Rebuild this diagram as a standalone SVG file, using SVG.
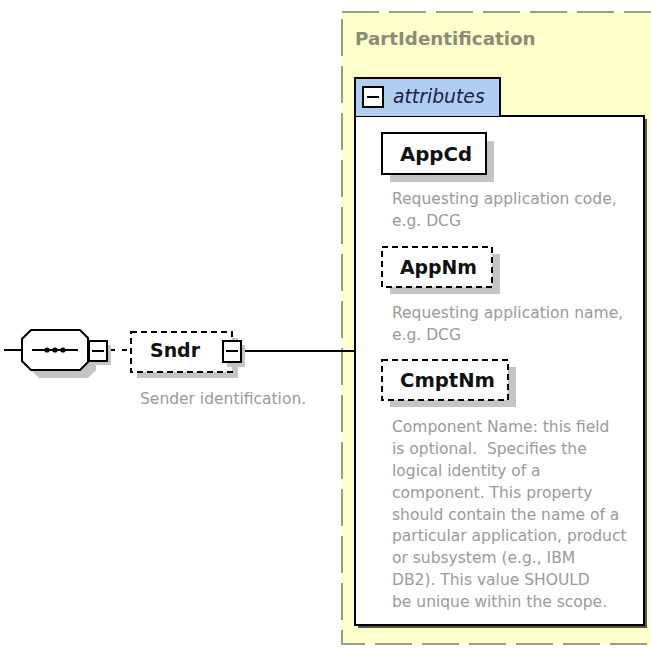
<svg xmlns="http://www.w3.org/2000/svg" width="651" height="648" viewBox="0 0 651 648">
<style>
.ln{stroke:#000;stroke-width:2;fill:none}
.sh{fill:#c4c4c4}
.box{fill:#fff;stroke:#000;stroke-width:2}
.opt{fill:#fff;stroke:#000;stroke-width:2;stroke-dasharray:6 4}
.nm{font-family:"DejaVu Sans",sans-serif;font-weight:bold;font-size:19px;fill:#111}
.ds{font-family:"DejaVu Sans",sans-serif;font-size:15.5px;fill:#9a9a9a}
.mb{fill:#fff;stroke:#000;stroke-width:2}
</style>
<rect width="651" height="648" fill="#fff"/>

<g id="PartIdentification">
<rect x="342" y="12" width="330" height="632" fill="#ffffcc" stroke="#9c9c84" stroke-width="2" stroke-dasharray="37 10"/>
<text x="355" y="45" font-family="DejaVu Sans,sans-serif" font-weight="bold" font-size="18.3px" fill="#8c8c74">PartIdentification</text>
</g>

<g id="attributes">
<rect x="358" y="119" width="289" height="509" fill="#555"/>
<rect x="355" y="116" width="289" height="509" class="box"/>
<path d="M355,116 V78 H500 V116" fill="#aecff2" stroke="#000" stroke-width="2"/>
<rect x="363" y="87" width="20" height="20" class="mb"/>
<line x1="367" y1="97" x2="379" y2="97" stroke="#000" stroke-width="2"/>
<text x="393" y="103" font-family="DejaVu Sans,sans-serif" font-style="italic" font-size="18.8px" fill="#1e2040">attributes</text>
</g>

<g id="connectors">
<line x1="4" y1="350" x2="22" y2="350" class="ln"/>
<line x1="107" y1="350" x2="131" y2="350" class="ln" stroke-dasharray="8 7 5 20"/>
<line x1="241" y1="351" x2="355" y2="351" class="ln"/>
</g>

<g id="sequence">
<polygon points="39,338 88,338 96,346 96,370 88,378 39,378 30,369 30,347" class="sh"/>
<polygon points="31,330 80,330 88,338 88,362 80,370 31,370 22,361 22,339" class="box"/>
<line x1="32" y1="350" x2="78" y2="350" stroke="#000" stroke-width="2"/>
<circle cx="47" cy="350" r="2.6"/>
<circle cx="55" cy="350" r="2.6"/>
<circle cx="63" cy="350" r="2.6"/>
<rect x="93" y="345" width="18" height="20" class="sh"/>
<rect x="89" y="341" width="18" height="20" class="mb"/>
<line x1="92" y1="351" x2="104" y2="351" stroke="#000" stroke-width="2"/>
</g>

<g id="Sndr">
<rect x="137" y="338" width="101" height="40" class="sh"/>
<rect x="131" y="332" width="101" height="40" class="opt"/>
<text x="150" y="357" class="nm" textLength="50" lengthAdjust="spacingAndGlyphs">Sndr</text>
<rect x="227" y="345" width="18" height="22" class="sh"/>
<rect x="223" y="341" width="18" height="21" class="mb"/>
<line x1="226" y1="351" x2="238" y2="351" stroke="#000" stroke-width="2"/>
<text x="140" y="404" class="ds">Sender identification.</text>
</g>

<g id="AppCd">
<rect x="390" y="141" width="104" height="41" class="sh"/>
<rect x="382" y="133" width="104" height="41" class="box"/>
<text x="400" y="161" class="nm" textLength="72" lengthAdjust="spacingAndGlyphs">AppCd</text>
<text x="392" y="204" class="ds">Requesting application code,</text>
<text x="392" y="226" class="ds">e.g. DCG</text>
</g>

<g id="AppNm">
<rect x="390" y="254" width="110" height="40" class="sh"/>
<rect x="382" y="247" width="110" height="40" class="opt"/>
<text x="400" y="274" class="nm" textLength="77" lengthAdjust="spacingAndGlyphs">AppNm</text>
<text x="392" y="318" class="ds">Requesting application name,</text>
<text x="392" y="340" class="ds">e.g. DCG</text>
</g>

<g id="CmptNm">
<rect x="390" y="367" width="126" height="40" class="sh"/>
<rect x="382" y="360" width="126" height="40" class="opt"/>
<text x="400" y="387" class="nm" textLength="95" lengthAdjust="spacingAndGlyphs">CmptNm</text>
<text x="392" y="432" class="ds">Component Name: this field</text>
<text x="392" y="454" class="ds" xml:space="preserve">is optional.  Specifies the</text>
<text x="392" y="476" class="ds">logical identity of a</text>
<text x="392" y="498" class="ds">component. This property</text>
<text x="392" y="520" class="ds">should contain the name of a</text>
<text x="392" y="541" class="ds">particular application, product</text>
<text x="392" y="563" class="ds">or subsystem (e.g., IBM</text>
<text x="392" y="585" class="ds">DB2). This value SHOULD</text>
<text x="392" y="607" class="ds">be unique within the scope.</text>
</g>
</svg>
